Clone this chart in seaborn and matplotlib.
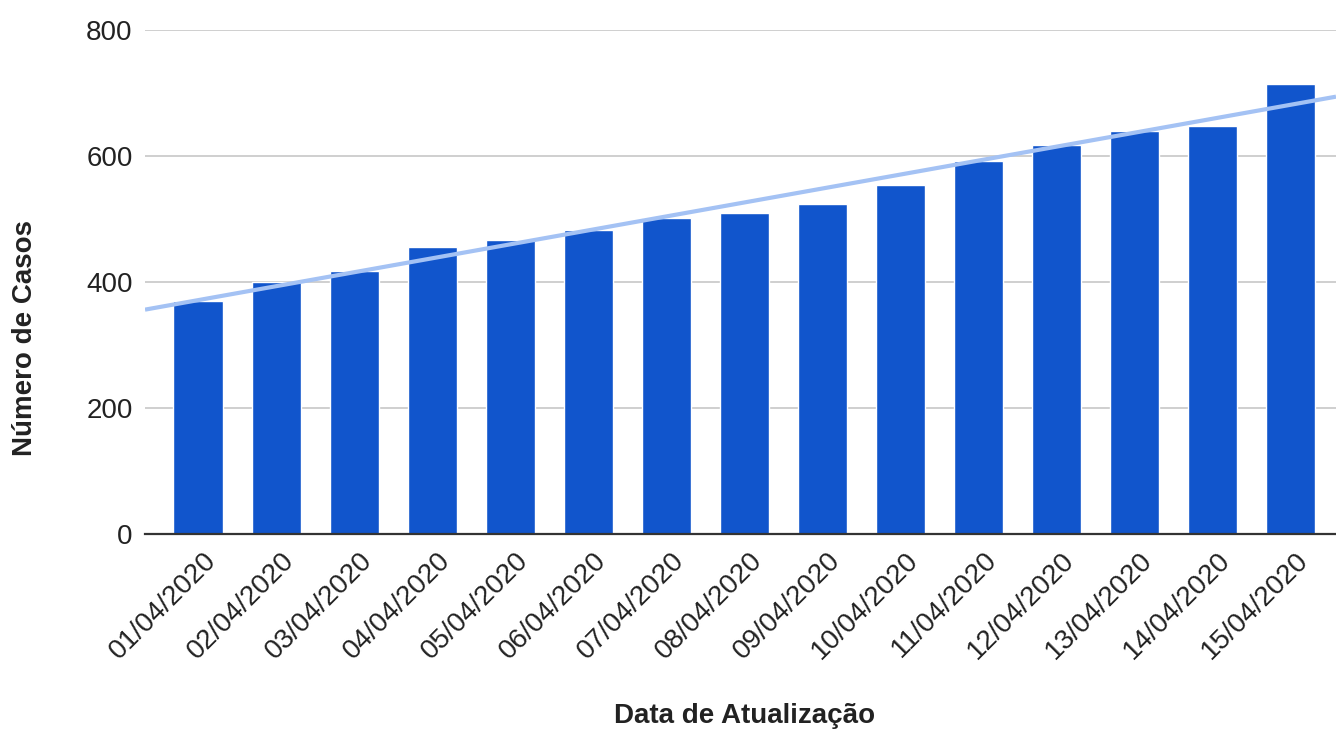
import numpy as np
import pandas as pd
import matplotlib
matplotlib.use("Agg")
import matplotlib.pyplot as plt
import matplotlib.transforms as mtransforms
import seaborn as sns

datas = ["01/04/2020", "02/04/2020", "03/04/2020", "04/04/2020", "05/04/2020",
         "06/04/2020", "07/04/2020", "08/04/2020", "09/04/2020", "10/04/2020",
         "11/04/2020", "12/04/2020", "13/04/2020", "14/04/2020", "15/04/2020"]
casos = [370, 400, 418, 456, 467, 482, 501, 509, 524, 554, 592, 618, 640, 648, 715]
y_ticks = [0, 200, 400, 600, 800]

df = pd.DataFrame({"Data de Atualização": datas, "Número de Casos": casos})

sns.set_theme(style="white")
plt.rcParams["font.family"] = ["Liberation Sans", "DejaVu Sans"]

fig = plt.figure(figsize=(13.36, 7.29), dpi=100)
ax = fig.add_axes([145 / 1336, 1 - 534 / 729, 1 - 145 / 1336, (534 - 30) / 729])

sns.barplot(data=df, x="Data de Atualização", y="Número de Casos",
            color="#1155cc", saturation=1, width=0.63, ax=ax, zorder=2)

# linear trend line across the full width of the axes
xlim = (-0.68, 14.58)
pos = np.arange(len(casos))
coef = np.polyfit(pos, casos, 1)
xs = np.array(xlim)
ax.plot(xs, np.polyval(coef, xs), color="#a4c2f4", lw=3, zorder=3,
        solid_capstyle="butt")

ax.set_xlim(*xlim)
ax.set_ylim(0, 800)
ax.set_yticks(y_ticks)
ax.set_yticklabels([str(v) for v in y_ticks], fontsize=20, color="#222222")
ax.yaxis.grid(True, color="#cccccc", lw=1.3, zorder=0)
ax.set_axisbelow(True)
ax.tick_params(axis="y", length=0, pad=9)
ax.tick_params(axis="x", length=0, pad=16)

ax.set_xticks(pos)
ax.set_xticklabels(datas, rotation=45, ha="right", va="center",
                   rotation_mode="anchor", fontsize=20, color="#222222")
shift = mtransforms.ScaledTranslation(0.14, 0, fig.dpi_scale_trans)
for lbl in ax.get_xticklabels():
    lbl.set_transform(lbl.get_transform() + shift)

for s in ["top", "right", "left"]:
    ax.spines[s].set_visible(False)
ax.spines["bottom"].set_color("#333333")
ax.spines["bottom"].set_linewidth(1.6)
ax.spines["bottom"].set_zorder(4)

ax.set_xlabel("Data de Atualização", fontsize=20, fontweight="bold",
              color="#222222", va="center")
ax.xaxis.set_label_coords((745 - 145) / 1191, (534 - 716) / 504)
ax.set_ylabel("Número de Casos", fontsize=20, fontweight="bold",
              color="#222222", va="center", ha="center")
ax.yaxis.set_label_coords((25 - 145) / 1191, (534 - 338) / 504)

fig.savefig("out.png", dpi=100, facecolor="white")
